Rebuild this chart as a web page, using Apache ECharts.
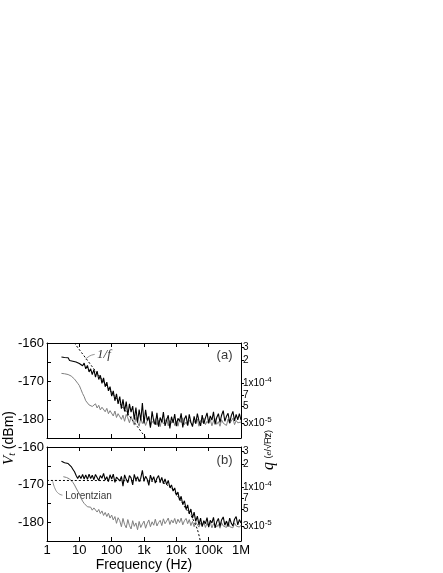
<!DOCTYPE html>
<html>
<head>
<meta charset="utf-8">
<script src="https://cdn.jsdelivr.net/npm/echarts@6/dist/echarts.min.js"></script>
<style>
  html, body { margin: 0; padding: 0; background: #fff; }
  #chart { width: 443px; height: 573px; }
</style>
</head>
<body>
<div id="chart"></div>
<script>
// frequency points (Hz), shared by all traces
var freqHz = [2.8, 3.2, 3.5, 4, 4.5, 5, 5.6, 6.3, 7.1, 7.9, 8.9,
  10, 11.2, 12.6, 14.1, 15.8, 17.8, 20, 22.4, 25.1, 28.2, 31.6, 35.5, 39.8, 44.7, 50.1, 56.2, 63.1, 70.8, 79.4, 89.1,
  100, 112, 126, 141, 158, 178, 200, 224, 251, 282, 316, 355, 398, 447, 501, 562, 631, 708, 794, 891,
  1000, 1120, 1260, 1410, 1580, 1780, 2000, 2240, 2510, 2820, 3160, 3550, 3980, 4470, 5010, 5620, 6310, 7080, 7940, 8910,
  10000, 11200, 12600, 14100, 15800, 17800, 20000, 22400, 25100, 28200, 31600, 35500, 39800, 44700, 50100, 56200, 63100, 70800, 79400, 89100,
  100000, 112000, 126000, 141000, 158000, 178000, 200000, 224000, 251000, 282000, 316000, 355000, 398000, 447000, 501000, 562000, 631000, 708000, 794000, 891000,
  1000000];

// panel (a)
var blackA = [-163.7, -164.1, -163.8, -164.3, -163.9, -164.6, -164.2, -164.8, -164.3, -165.0, -164.6,
  -165.4, -164.9, -166.0, -165.3, -166.8, -165.9, -167.6, -166.8, -168.3, -167.0, -169.0, -167.4, -169.6, -168.5, -170.6, -169.2, -171.5, -170.3, -172.6, -171.5,
  -174.0, -172.6, -175.2, -173.4, -176.0, -174.1, -177.3, -174.8, -178.0, -175.4, -179.1, -176.0, -178.2, -176.6, -180.2, -177.0, -181.0, -177.5, -180.4, -175.8,
  -181.2, -177.6, -180.4, -179.3, -182.3, -178.0, -180.6, -181.5, -178.4, -182.0, -179.6, -180.9, -178.2, -181.8, -180.3, -179.0, -182.5, -179.4, -181.0, -178.7,
  -181.9, -179.8, -180.6, -178.5, -182.2, -180.0, -179.1, -181.7, -178.8, -180.9, -182.0, -179.3, -181.2, -178.6, -180.5, -181.8, -179.0, -181.3, -179.7, -178.4,
  -181.0, -179.2, -180.3, -178.1, -181.4, -179.6, -178.6, -180.9, -179.0, -177.8, -180.6, -179.3, -178.5, -181.0, -179.1, -178.0, -180.5, -178.8, -180.2, -178.6,
  -180.3];
var grayA = [-168.0, -168.0, -168.1, -168.0, -168.3, -168.2, -168.7, -169.0, -169.5, -169.9, -170.6,
  -171.2, -172.2, -173.3, -174.1, -175.2, -175.6, -176.3, -175.8, -176.7, -176.2, -176.0, -177.1, -176.4, -177.6, -176.9, -177.4, -178.1, -177.2, -178.6, -177.8,
  -178.3, -179.2, -177.9, -179.6, -178.6, -178.2, -180.1, -179.0, -180.6, -178.8, -179.7, -181.0, -179.3, -180.5, -181.6, -179.6, -180.8, -181.9, -179.9, -181.2,
  -180.2, -181.7, -180.5, -179.8, -181.9, -180.6, -181.2, -179.9, -181.6, -180.4, -182.0, -180.1, -181.3, -180.7, -179.8, -181.8, -180.4, -181.1, -180.0, -181.7,
  -180.5, -181.9, -180.2, -181.0, -179.7, -181.5, -180.8, -181.8, -180.3, -179.9, -181.6, -180.6, -181.2, -180.0, -181.9, -180.4, -181.0, -179.8, -181.5, -180.6,
  -181.3, -180.1, -181.8, -180.5, -179.9, -181.4, -180.7, -181.9, -180.2, -181.1, -180.6, -181.7, -180.0, -181.2, -180.8, -179.8, -181.5, -180.4, -181.0, -180.6,
  -180.8];
var oneOverFHz = [7, 1150];
var oneOverFDb = [-160, -185];
var leaderAHz = [15.5, 21, 30];
var leaderADb = [-164.3, -163.4, -163.0];

// panel (b)
var blackB = [-163.8, -164.0, -164.2, -164.1, -164.4, -164.7, -165.2, -165.9, -166.6, -167.5, -168.4,
  -167.6, -168.4, -167.3, -168.5, -167.4, -168.6, -167.2, -168.4, -167.5, -168.7, -167.3, -168.1, -168.9, -167.6, -168.3, -167.0, -168.8, -167.9, -169.2, -167.4,
  -168.5, -167.2, -169.4, -168.0, -167.5, -169.0, -167.8, -170.4, -167.4, -168.6, -169.5, -167.6, -168.2, -170.1, -167.3, -168.8, -167.9, -169.2, -168.3, -166.2,
  -169.0, -167.8, -168.6, -170.2, -167.5, -168.9, -167.9, -169.6, -168.3, -167.6, -169.3, -168.1, -169.7, -168.5, -170.0, -168.9, -170.8, -170.1, -171.7, -170.9,
  -172.8, -172.0, -174.2, -173.1, -175.3, -174.3, -176.6, -175.4, -177.8, -176.5, -178.9, -177.3, -179.8, -178.4, -180.7, -178.9, -181.2, -179.6, -180.4, -178.8,
  -181.3, -179.5, -180.2, -178.7, -181.5, -179.9, -179.0, -181.1, -179.4, -178.6, -180.8, -179.7, -181.2, -178.9, -180.3, -181.0, -179.2, -178.5, -180.7, -179.3,
  -180.2];
var grayB = [null, -167.9, -168.0, -168.1, -168.3, -168.5, -168.8, -169.4, -170.1, -170.9, -171.7,
  -172.5, -173.5, -174.4, -175.0, -175.5, -175.9, -176.4, -176.0, -176.8, -176.2, -176.5, -177.3, -176.6, -177.7, -177.0, -178.2, -177.4, -178.5, -177.6, -178.9,
  -178.1, -179.4, -178.5, -180.3, -178.8, -179.6, -181.2, -179.0, -180.6, -181.5, -179.3, -180.9, -181.8, -179.6, -181.1, -180.2, -182.0, -179.8, -181.4, -180.5,
  -179.7, -181.6, -180.3, -179.4, -181.2, -179.9, -180.8, -179.2, -181.0, -180.1, -179.5, -180.9, -179.1, -180.4, -179.7, -178.9, -180.6, -179.4, -180.2, -179.0,
  -180.5, -179.2, -180.1, -178.9, -180.7, -179.6, -179.0, -180.4, -179.3, -180.9, -179.8, -181.2, -180.0, -179.5, -181.3, -180.2, -181.0, -179.9, -181.4, -180.3,
  -181.1, -180.0, -181.5, -180.4, -179.9, -181.3, -180.6, -181.6, -180.1, -181.0, -180.5, -181.4, -179.9, -181.2, -180.7, -181.5, -180.2, -181.0, -180.6, -181.3,
  -180.8];
var lorentzHz = [1, 1000, 3000, 5000, 8000, 12000, 20000, 30000, 45000, 56000];
var lorentzDb = [-168.9, -169.0, -169.3, -170.0, -171.5, -173.5, -176.5, -178.6, -182.0, -185.3];
var leaderBHz = [1.5, 1.8, 2.3, 3.0];
var leaderBDb = [-169.1, -171.2, -172.4, -172.8];

// axis ticks
var xTickValues = [1, 10, 100, 1000, 10000, 100000, 1000000];
var xTickLabels = ['1', '10', '100', '1k', '10k', '100k', '1M'];
var qTickValues = [3e-4, 2e-4, 1e-4, 7e-5, 5e-5, 3e-5];
var qTickLabels = ['3', '2', '1x10{sup|-4}', '7', '5', '3x10{sup|-5}'];
var qRefDb = -170.6;   // dB level where q = 1e-4
var qTickDb = qTickValues.map(function (q) { return qRefDb + 20 * Math.log10(q / 1e-4); });

var FONT = 'Liberation Sans';

function pairs(xs, ys) {
  return xs.map(function (x, i) { return [x, ys[i]]; });
}

function xAxisFor(grid, pos, labels) {
  return {
    type: 'log', logBase: 10, min: 1, max: 1000000, splitNumber: 6,
    gridIndex: grid, position: pos,
    axisLine: { show: true, lineStyle: { color: '#000', width: 1 } },
    axisTick: { show: true, inside: true, length: 4, lineStyle: { color: '#000' } },
    minorTick: { show: false },
    splitLine: { show: false },
    axisLabel: {
      show: labels, color: '#000', fontFamily: FONT, fontSize: 13, margin: 3,
      formatter: function (v) {
        for (var i = 0; i < xTickValues.length; i++) {
          if (Math.abs(Math.log10(v) - Math.log10(xTickValues[i])) < 0.01) return xTickLabels[i];
        }
        return '';
      }
    },
    name: labels ? 'Frequency (Hz)' : '',
    nameLocation: 'middle', nameGap: 17,
    nameTextStyle: { color: '#000', fontFamily: FONT, fontSize: 14 }
  };
}

function yLeftFor(grid) {
  return {
    type: 'value', min: -185, max: -160, interval: 5, gridIndex: grid, position: 'left',
    axisLine: { show: true, lineStyle: { color: '#000', width: 1 } },
    axisTick: { show: true, inside: true, length: 4, lineStyle: { color: '#000' } },
    splitLine: { show: false },
    axisLabel: {
      color: '#000', fontFamily: FONT, fontSize: 13, margin: 3,
      formatter: function (v) { return v % 10 === 0 ? String(v) : ''; }
    }
  };
}

function yRightFor(grid) {
  return {
    type: 'value', min: -185, max: -160, gridIndex: grid, position: 'right',
    axisLine: { show: true, lineStyle: { color: '#000', width: 1 } },
    axisTick: { show: true, inside: false, length: 3, customValues: qTickDb, lineStyle: { color: '#000' } },
    splitLine: { show: false },
    axisLabel: {
      customValues: qTickDb, color: '#000', fontFamily: FONT, fontSize: 10, margin: 2,
      formatter: function (v) {
        for (var i = 0; i < qTickDb.length; i++) {
          if (Math.abs(v - qTickDb[i]) < 0.01) return qTickLabels[i];
        }
        return '';
      },
      rich: { sup: { fontSize: 8, fontFamily: FONT, color: '#000', padding: [0, 0, 7, 0] } }
    }
  };
}

function trace(data, color, width, xi, yi) {
  return {
    type: 'line', xAxisIndex: xi, yAxisIndex: yi, data: data, showSymbol: false,
    lineStyle: { color: color, width: width }, clip: true, silent: true
  };
}

function dashed(data, xi, yi) {
  return {
    type: 'line', xAxisIndex: xi, yAxisIndex: yi, data: data, showSymbol: false, smooth: 0.3,
    lineStyle: { color: '#000', width: 1, type: [2, 2] }, clip: true, silent: true
  };
}

function leader(data, xi, yi) {
  return {
    type: 'line', xAxisIndex: xi, yAxisIndex: yi, data: data, showSymbol: false, smooth: true,
    lineStyle: { color: '#777', width: 0.8 }, clip: true, silent: true
  };
}

function textAt(pt, text, pos, style, xi, yi) {
  return {
    type: 'scatter', xAxisIndex: xi, yAxisIndex: yi, data: [pt], symbolSize: 0, silent: true,
    label: Object.assign({ show: true, position: pos, distance: 1, color: '#000', formatter: text }, style)
  };
}

var chart = echarts.init(document.getElementById('chart'), null, { renderer: 'canvas' });

chart.setOption({
  animation: false,
  backgroundColor: '#fff',
  grid: [
    { left: 47, top: 343, width: 194, height: 95 },
    { left: 47, top: 447, width: 194, height: 95 }
  ],
  xAxis: [xAxisFor(0, 'bottom', false), xAxisFor(0, 'top', false), xAxisFor(1, 'bottom', true), xAxisFor(1, 'top', false)],
  yAxis: [yLeftFor(0), yRightFor(0), yLeftFor(1), yRightFor(1)],
  series: [
    trace(pairs(freqHz, grayA), '#808080', 1, 0, 0),
    trace(pairs(freqHz, blackA), '#000', 1.1, 0, 0),
    dashed(pairs(oneOverFHz, oneOverFDb), 0, 0),
    leader(pairs(leaderAHz, leaderADb), 0, 0),
    textAt([33, -163.0], '{f|1/f}', 'right', {
      rich: { f: { fontFamily: 'Liberation Serif', fontStyle: 'italic', fontSize: 13, color: '#000' } }
    }, 0, 0),
    textAt([310000, -163.4], '(a)', 'inside', { fontFamily: FONT, fontSize: 13 }, 0, 0),

    trace(pairs(freqHz, grayB), '#808080', 1, 2, 2),
    trace(pairs(freqHz, blackB), '#000', 1.1, 2, 2),
    dashed(pairs(lorentzHz, lorentzDb), 2, 2),
    leader(pairs(leaderBHz, leaderBDb), 2, 2),
    textAt([3.4, -173.1], 'Lorentzian', 'right', { fontFamily: FONT, fontSize: 10 }, 2, 2),
    textAt([310000, -163.5], '(b)', 'inside', { fontFamily: FONT, fontSize: 13 }, 2, 2)
  ],
  graphic: [
    {
      type: 'text', x: 9, y: 438, rotation: Math.PI / 2,
      style: {
        text: '{v|V}{t|t}{n| (dBm)}', align: 'center', verticalAlign: 'middle', fill: '#000',
        rich: {
          v: { fontFamily: 'Liberation Serif', fontStyle: 'italic', fontSize: 15, fill: '#000' },
          t: { fontFamily: 'Liberation Serif', fontStyle: 'italic', fontSize: 10, fill: '#000', padding: [6, 0, 0, 0] },
          n: { fontFamily: FONT, fontSize: 14, fill: '#000' }
        }
      }
    },
    {
      type: 'text', x: 269, y: 450, rotation: Math.PI / 2,
      style: {
        text: '{q|q} {s|(}{e|e}{s|/\u221AH\u0305z\u0305)}', align: 'center', verticalAlign: 'middle', fill: '#000',
        rich: {
          q: { fontFamily: 'Liberation Serif', fontStyle: 'italic', fontSize: 16, fill: '#000' },
          e: { fontFamily: 'Liberation Serif', fontStyle: 'italic', fontSize: 9, fill: '#000' },
          s: { fontFamily: FONT, fontSize: 9, fill: '#000' }
        }
      }
    }
  ]
});
</script>
</body>
</html>
